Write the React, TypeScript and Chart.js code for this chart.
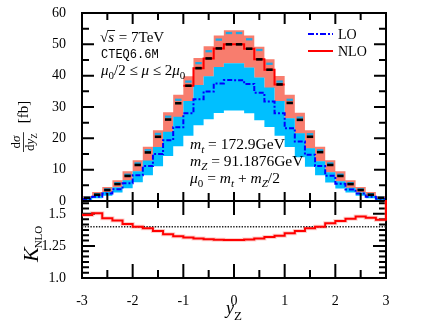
import React, { useEffect, useRef } from 'react';
import { Chart, registerables } from 'chart.js';

Chart.register(...registerables);

const SERIF = '"Liberation Serif", "Times New Roman", serif';
const MONO = '"Liberation Mono", "DejaVu Sans Mono", monospace';

// ---------- data ----------
const binEdges = [-3, -2.8, -2.6, -2.4, -2.2, -2, -1.8, -1.6, -1.4, -1.2, -1, -0.8, -0.6, -0.4, -0.2, 0,
  0.2, 0.4, 0.6, 0.8, 1, 1.2, 1.4, 1.6, 1.8, 2, 2.2, 2.4, 2.6, 2.8, 3];

const nloCentral = [1.0, 2.0, 3.5, 5.4, 8.0, 11.5, 15.5, 20.5, 26.0, 31.2, 36.8, 42.4, 45.5, 48.7, 50.0,
  50.0, 48.6, 45.2, 41.9, 37.2, 31.3, 25.9, 20.5, 15.6, 11.5, 8.0, 5.4, 3.5, 2.0, 1.0];
const nloUpper = [1.6, 2.9, 4.5, 6.6, 9.5, 13.0, 17.3, 22.6, 28.3, 33.9, 39.8, 45.6, 49.4, 52.8, 54.5,
  54.5, 52.8, 49.2, 45.2, 39.9, 33.9, 28.2, 22.6, 17.3, 13.0, 9.5, 6.6, 4.5, 2.9, 1.6];
const nloLower = [0.6, 1.5, 2.8, 4.3, 6.5, 9.4, 12.8, 17.1, 22.0, 26.8, 31.8, 36.9, 39.7, 42.7, 44.0,
  44.0, 42.5, 39.3, 36.1, 31.8, 26.3, 21.5, 16.7, 12.6, 9.1, 6.2, 4.1, 2.6, 1.5, 0.6];
const nloAlt = [1.1, 2.15, 3.7, 5.7, 8.4, 12.0, 16.2, 21.4, 26.9, 32.3, 38.1, 44.0, 47.8, 51.5, 53.6,
  53.6, 51.6, 48.2, 43.8, 38.1, 32.3, 26.6, 21.3, 16.2, 12.0, 8.4, 5.7, 3.7, 2.15, 1.1];
const loCentral = [0.67, 1.33, 2.39, 3.73, 5.63, 8.21, 11.17, 15.0, 19.39, 23.55, 27.98, 32.44, 34.95, 37.52, 38.58,
  38.55, 37.38, 34.58, 31.74, 27.97, 23.2, 18.95, 14.77, 11.14, 8.06, 5.54, 3.7, 2.37, 1.36, 0.69];
const loUpper = [1.0, 1.7, 2.9, 4.4, 6.6, 9.5, 12.9, 17.2, 22.1, 26.9, 31.9, 37.0, 39.8, 42.8, 44.0,
  44.0, 42.6, 39.4, 36.2, 31.9, 26.4, 21.6, 16.8, 12.7, 9.2, 6.3, 4.2, 2.7, 1.6, 0.9];
const loLower = [0.3, 0.9, 1.7, 2.7, 4.1, 6.0, 8.2, 11.1, 14.4, 17.5, 20.8, 24.2, 26.1, 28.1, 28.9,
  28.9, 28.0, 25.8, 23.6, 20.8, 17.2, 14.0, 10.9, 8.2, 5.9, 4.0, 2.7, 1.7, 0.9, 0.3];
const kFactor = [1.49, 1.505, 1.466, 1.448, 1.42, 1.40, 1.388, 1.367, 1.341, 1.325, 1.315, 1.307, 1.302, 1.298, 1.296,
  1.297, 1.30, 1.307, 1.32, 1.33, 1.349, 1.367, 1.388, 1.40, 1.427, 1.445, 1.461, 1.479, 1.47, 1.453];
const kExitValue = 1.7;
const kReference = 1.4;
const nloLineFirstBin = 10;
const nloLineLastBin = 19;

const yTopTicks = [0, 10, 20, 30, 40, 50, 60];
const yTopMinor = [5, 15, 25, 35, 45, 55];
const kTickValues = [1.0, 1.25, 1.5];
const kTickLabels = ['1.0', '1.25', '1.5'];
const kMinorTicks = [1.0417, 1.0833, 1.125, 1.1667, 1.2083, 1.2917, 1.3333, 1.375, 1.4167, 1.4583, 1.5417, 1.5833];
const xTickValues = [-3, -2, -1, 0, 1, 2, 3];
const xTickLabels = ['-3', '-2', '-1', '0', '1', '2', '3'];
const xMinorTicks = [-2.5, -1.5, -0.5, 0.5, 1.5, 2.5];

const SALMON = '#f87d6e';
const CYAN = '#00bfff';
const CYAN_DASH = '#1fa9e3';

// ---------- helpers ----------
type Pt = { x: number; y: number };
function stepPoints(values: number[], first = 0, last = values.length - 1, endY?: number): Pt[] {
  const pts: Pt[] = [];
  for (let i = first; i <= last; i++) pts.push({ x: binEdges[i], y: values[i] });
  pts.push({ x: binEdges[last + 1], y: endY ?? values[last] });
  return pts;
}
function centerPoints(values: number[]): Pt[] {
  return values.map((v, i) => ({ x: (binEdges[i] + binEdges[i + 1]) / 2, y: v }));
}

type Part = { t: string; it?: boolean; sub?: boolean; mono?: boolean };
function drawRich(ctx: CanvasRenderingContext2D, x: number, y: number, parts: Part[], size: number) {
  let cx = x;
  for (const p of parts) {
    const s = p.sub ? Math.round(size * 0.7) : size;
    const fam = p.mono ? MONO : SERIF;
    ctx.font = `${p.it ? 'italic ' : ''}${s}px ${fam}`;
    const dy = p.sub ? size * 0.25 : 0;
    ctx.fillText(p.t, cx, y + dy);
    cx += ctx.measureText(p.t).width;
  }
  return cx;
}

type Side = { major: number[]; minor: number[]; majLen: number; minLen: number };
function drawFrame(chart: any, yId: string, xTop: Side, xBot: Side, yL: Side, yR: Side) {
  const { ctx, chartArea: a } = chart;
  const xs = chart.scales.x;
  const ys = chart.scales[yId];
  ctx.save();
  ctx.strokeStyle = '#000';
  ctx.lineWidth = 2;
  ctx.beginPath();
  const seg = (x0: number, y0: number, x1: number, y1: number) => { ctx.moveTo(x0, y0); ctx.lineTo(x1, y1); };
  xTop.major.forEach(v => { const p = xs.getPixelForValue(v); seg(p, a.top, p, a.top + xTop.majLen); });
  xTop.minor.forEach(v => { const p = xs.getPixelForValue(v); seg(p, a.top, p, a.top + xTop.minLen); });
  xBot.major.forEach(v => { const p = xs.getPixelForValue(v); seg(p, a.bottom, p, a.bottom - xBot.majLen); });
  xBot.minor.forEach(v => { const p = xs.getPixelForValue(v); seg(p, a.bottom, p, a.bottom - xBot.minLen); });
  yL.major.forEach(v => { const p = ys.getPixelForValue(v); seg(a.left, p, a.left + yL.majLen, p); });
  yL.minor.forEach(v => { const p = ys.getPixelForValue(v); seg(a.left, p, a.left + yL.minLen, p); });
  yR.major.forEach(v => { const p = ys.getPixelForValue(v); seg(a.right, p, a.right - yR.majLen, p); });
  yR.minor.forEach(v => { const p = ys.getPixelForValue(v); seg(a.right, p, a.right - yR.minLen, p); });
  ctx.stroke();
  ctx.strokeRect(a.left, a.top, a.right - a.left, a.bottom - a.top);
  ctx.restore();
}

const xInner = [-2, -1, 0, 1, 2];

const topPlugin = {
  id: 'topDecor',
  afterDatasetsDraw(chart: any) {
    drawFrame(chart, 'y',
      { major: xInner, minor: xMinorTicks, majLen: 11, minLen: 7 },
      { major: xInner, minor: xMinorTicks, majLen: 9, minLen: 8 },
      { major: [10, 20, 30, 40, 50], minor: yTopMinor, majLen: 12, minLen: 7 },
      { major: [10, 20, 30, 40, 50], minor: yTopMinor, majLen: 12, minLen: 7 });
    const ctx: CanvasRenderingContext2D = chart.ctx;
    ctx.save();
    ctx.fillStyle = '#000';
    ctx.strokeStyle = '#000';
    ctx.textAlign = 'left';
    ctx.textBaseline = 'alphabetic';
    // sqrt(s) = 7TeV
    const fs = 15;
    ctx.font = `${fs}px ${SERIF}`;
    ctx.fillText('√', 100, 42);
    const wr = ctx.measureText('√').width;
    ctx.font = `italic ${fs}px ${SERIF}`;
    ctx.fillText('s', 100 + wr, 42);
    const ws = ctx.measureText('s').width;
    ctx.lineWidth = 0.9;
    ctx.beginPath();
    ctx.moveTo(100 + wr - 0.5, 42 - 11.5);
    ctx.lineTo(100 + wr + ws + 1, 42 - 11.5);
    ctx.stroke();
    ctx.font = `${fs}px ${SERIF}`;
    ctx.fillText(' = 7TeV', 100 + wr + ws + 1, 42);
    // PDF
    drawRich(ctx, 101, 58, [{ t: 'CTEQ6.6M', mono: true }], 12);
    // scale range
    drawRich(ctx, 101, 75, [{ t: 'μ', it: true }, { t: '0', sub: true }, { t: '/2 ≤ ' }, { t: 'μ', it: true },
      { t: ' ≤ 2' }, { t: 'μ', it: true }, { t: '0', sub: true }], fs);
    // masses
    drawRich(ctx, 190, 149, [{ t: 'm', it: true }, { t: 't', it: true, sub: true }, { t: ' = 172.9GeV' }], 15.5);
    drawRich(ctx, 190, 166, [{ t: 'm', it: true }, { t: 'Z', it: true, sub: true }, { t: ' = 91.1876GeV' }], 15.5);
    drawRich(ctx, 190, 183, [{ t: 'μ', it: true }, { t: '0', sub: true }, { t: ' = ' }, { t: 'm', it: true },
      { t: 't', it: true, sub: true }, { t: ' + ' }, { t: 'm', it: true }, { t: 'Z', it: true, sub: true }, { t: '/2' }], 15.5);
    // legend
    ctx.lineWidth = 2;
    ctx.strokeStyle = '#0000ff';
    ctx.setLineDash([6, 2, 2, 2]);
    ctx.beginPath(); ctx.moveTo(308, 34); ctx.lineTo(333, 34); ctx.stroke();
    ctx.setLineDash([]);
    ctx.strokeStyle = '#ff0000';
    ctx.beginPath(); ctx.moveTo(308, 51); ctx.lineTo(333, 51); ctx.stroke();
    ctx.font = `14px ${SERIF}`;
    ctx.fillText('LO', 338, 39);
    ctx.fillText('NLO', 338, 56);
    // y title: dσ/dy_Z [fb]
    ctx.save();
    ctx.translate(23, 152);
    ctx.rotate(-Math.PI / 2);
    const fsz = 13;
    ctx.font = `${fsz}px ${SERIF}`;
    const wd = ctx.measureText('d').width;
    ctx.font = `italic ${fsz}px ${SERIF}`;
    const wsig = ctx.measureText('σ').width;
    const wy = ctx.measureText('y').width;
    ctx.font = `${Math.round(fsz * 0.7)}px ${SERIF}`;
    const wz = ctx.measureText('Z').width;
    const numW = wd + wsig;
    const denW = wd + wy + wz;
    const fw = Math.max(numW, denW) + 2;
    drawRich(ctx, (fw - numW) / 2, -3, [{ t: 'd' }, { t: 'σ', it: true }], fsz);
    drawRich(ctx, (fw - denW) / 2, 10.5, [{ t: 'd' }, { t: 'y', it: true }, { t: 'Z', sub: true }], fsz);
    ctx.lineWidth = 0.8;
    ctx.strokeStyle = '#000';
    ctx.beginPath(); ctx.moveTo(0, 0.5); ctx.lineTo(fw, 0.5); ctx.stroke();
    ctx.font = `15px ${SERIF}`;
    ctx.fillText('[fb]', fw + 9, 5);
    ctx.restore();
    ctx.restore();
  },
};

const bottomPlugin = {
  id: 'bottomDecor',
  beforeDatasetsDraw(chart: any) {
    drawFrame(chart, 'y',
      { major: xInner, minor: xMinorTicks, majLen: 14, minLen: 7 },
      { major: xInner, minor: xMinorTicks, majLen: 14, minLen: 8 },
      { major: [1.25, 1.5], minor: kMinorTicks, majLen: 13, minLen: 7 },
      { major: [1.25, 1.5], minor: kMinorTicks, majLen: 13, minLen: 7 });
  },
  afterDraw(chart: any) {
    const ctx: CanvasRenderingContext2D = chart.ctx;
    ctx.save();
    ctx.fillStyle = '#000';
    ctx.textAlign = 'left';
    ctx.textBaseline = 'alphabetic';
    // K_NLO (rotated), canvas coords shifted by the canvas top (190)
    ctx.save();
    ctx.translate(38, 262 - 190);
    ctx.rotate(-Math.PI / 2);
    ctx.font = `italic 22px ${SERIF}`;
    ctx.fillText('K', 0, 0);
    const wk = ctx.measureText('K').width;
    ctx.font = `11px ${SERIF}`;
    ctx.fillText('NLO', wk - 1, 4);
    ctx.restore();
    // y_Z
    ctx.font = `italic 18px ${SERIF}`;
    ctx.fillText('y', 226, 314 - 190);
    const wy = ctx.measureText('y').width;
    ctx.font = `13px ${SERIF}`;
    ctx.fillText('Z', 226 + wy, 320 - 190);
    ctx.restore();
  },
};

const tickFont = { family: SERIF, size: 14 };

export default function App() {
  const topRef = useRef<HTMLCanvasElement>(null);
  const botRef = useRef<HTMLCanvasElement>(null);

  useEffect(() => {
    document.body.style.margin = '0';
    const bandBase = { stepped: 'before' as const, pointRadius: 0, borderWidth: 0, borderColor: 'rgba(0,0,0,0)' };
    const top = new Chart(topRef.current as HTMLCanvasElement, {
      type: 'line',
      data: {
        datasets: [
          { ...bandBase, data: stepPoints(nloUpper), fill: '+1', backgroundColor: SALMON, order: 10 },
          { ...bandBase, data: stepPoints(nloLower), fill: false, order: 10 },
          { ...bandBase, data: stepPoints(loUpper), fill: '+1', backgroundColor: CYAN, order: 8 },
          { ...bandBase, data: stepPoints(loLower), fill: false, order: 8 },
          { data: centerPoints(nloAlt), showLine: false, pointStyle: 'line', pointRadius: 3.2, pointBorderWidth: 2.3,
            pointBorderColor: CYAN_DASH, order: 5 },
          { data: stepPoints(nloCentral, nloLineFirstBin, nloLineLastBin), stepped: 'before', borderColor: '#ff0000',
            borderWidth: 2, pointRadius: 0, fill: false, order: 4 },
          { data: stepPoints(loCentral), stepped: 'before', borderColor: '#0000ff', borderWidth: 2,
            borderDash: [5, 2, 2, 2], pointRadius: 0, fill: false, order: 3 },
          { data: centerPoints(nloCentral), showLine: false, pointStyle: 'line', pointRadius: 3.2, pointBorderWidth: 2.6,
            pointBorderColor: '#000', order: 1 },
        ] as any,
      },
      options: {
        responsive: false,
        animation: false,
        devicePixelRatio: 1,
        events: [],
        layout: { padding: { left: 0, right: 50, top: 13, bottom: 14 }, autoPadding: false },
        plugins: { legend: { display: false }, tooltip: { enabled: false } },
        scales: {
          x: {
            type: 'linear', min: -3, max: 3, display: false,
            afterFit: (s: any) => { s.paddingLeft = 0; s.paddingRight = 0; },
          },
          y: {
            type: 'linear', min: 0, max: 60,
            afterBuildTicks: (s: any) => { s.ticks = yTopTicks.map(v => ({ value: v })); },
            afterFit: (s: any) => { s.width = 82; s.paddingTop = 0; s.paddingBottom = 0; },
            grid: { display: false },
            border: { display: false },
            ticks: { font: tickFont, color: '#000', padding: 8 },
          },
        },
      } as any,
      plugins: [topPlugin],
    });

    const kStep = stepPoints(kFactor, 0, kFactor.length - 1, kExitValue);
    const bottom = new Chart(botRef.current as HTMLCanvasElement, {
      type: 'line',
      data: {
        datasets: [
          { data: kStep, stepped: 'before', borderColor: 'rgba(248,120,110,0.35)', borderWidth: 4, pointRadius: 0,
            fill: false, order: 6, clip: 0 },
          { data: [{ x: -3, y: kReference }, { x: 3, y: kReference }], borderColor: '#222', borderWidth: 1.5,
            borderDash: [1.4, 1.4], pointRadius: 0, fill: false, order: 4 },
          { data: kStep, stepped: 'before', borderColor: '#ff0000', borderWidth: 2, pointRadius: 0,
            fill: false, order: 2, clip: 1 },
        ] as any,
      },
      options: {
        responsive: false,
        animation: false,
        devicePixelRatio: 1,
        events: [],
        layout: { padding: { left: 0, right: 50, top: 11, bottom: 0 }, autoPadding: false },
        plugins: { legend: { display: false }, tooltip: { enabled: false } },
        scales: {
          x: {
            type: 'linear', min: -3, max: 3,
            afterBuildTicks: (s: any) => { s.ticks = xTickValues.map(v => ({ value: v })); },
            afterFit: (s: any) => { s.height = 52; s.paddingLeft = 0; s.paddingRight = 0; },
            grid: { display: false },
            border: { display: false },
            ticks: { font: tickFont, color: '#000', padding: 7, maxRotation: 0, autoSkip: false,
              callback: (_v: any, i: number) => xTickLabels[i] },
          },
          y: {
            type: 'linear', min: 1.0, max: 1.6,
            afterBuildTicks: (s: any) => { s.ticks = kTickValues.map(v => ({ value: v })); },
            afterFit: (s: any) => { s.width = 82; s.paddingTop = 0; s.paddingBottom = 0; },
            grid: { display: false },
            border: { display: false },
            ticks: { font: tickFont, color: '#000', padding: 8, callback: (_v: any, i: number) => kTickLabels[i] },
          },
        },
      } as any,
      plugins: [bottomPlugin],
    });

    return () => { top.destroy(); bottom.destroy(); };
  }, []);

  return (
    <div style={{ position: 'relative', width: 436, height: 330, background: '#fff' }}>
      <canvas ref={topRef} width={436} height={215} style={{ position: 'absolute', left: 0, top: 0 }} />
      <canvas ref={botRef} width={436} height={140} style={{ position: 'absolute', left: 0, top: 190 }} />
    </div>
  );
}
